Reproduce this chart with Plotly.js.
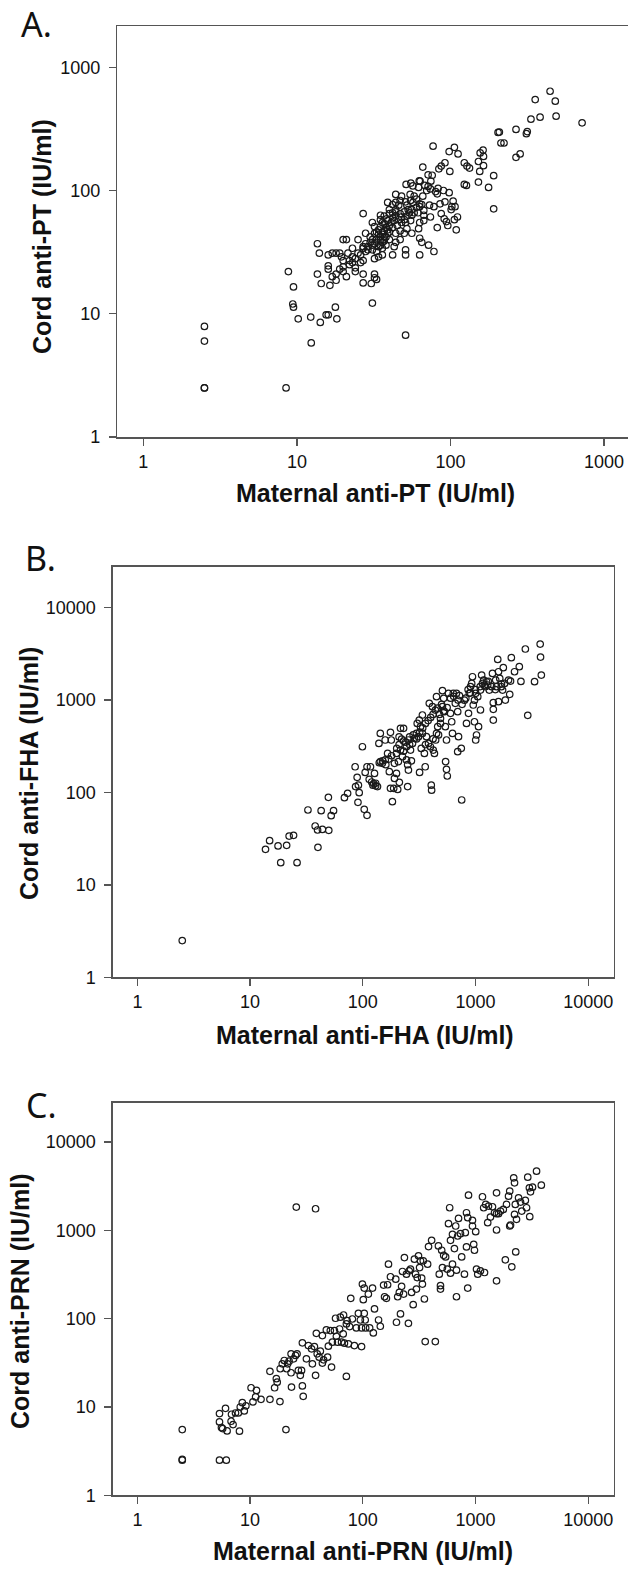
<!DOCTYPE html>
<html>
<head>
<meta charset="utf-8">
<script src="https://cdn.plot.ly/plotly-3.0.1.min.js"></script>
<style>
html,body{margin:0;padding:0;background:#fff;overflow:hidden;}
#chart{width:628px;height:1584px;}
</style>
</head>
<body>
<div id="chart"></div>
<script>
// ---------- Data (IU/ml) ----------
const ticksA = [1, 10, 100, 1000];
const ticksBC = [1, 10, 100, 1000, 10000];

const ptMaternal = [445,356,481,487,383,334,719,267,316,312,208,204,213,223,284,267,77,106,98,112,163,156,164,152,164,123,128,133,92,87,84,99,155,191,152,123,127,177,191,66,71.5,76,74.5,62.6,63.4,51.4,55.2,56.9,71.5,74,83,90,98,82,80,54.6,44,47,39,42,51,55,63,65,73,85.5,92,104,102,107,101,111,106,94,96,109,82,87,78,63,60,67,53,50,47,44,40,35,38.5,43,48,56,61.5,67,74,55,51,63,62,67,56,52,47,44,39,36,33,32,31,35,37,27,34,35,37,38,40,44,47,50,43,42,36,34,32,29,28,28,31,27,25,23,23,25,26,24,27,21.5,20,21,19,17,16,18,19.5,20,22,20,19,20,21,18,16,17,18,16.4,13.6,14,16,13.6,14.4,24,27,32,32,33,27,30.5,31,51,51,63,63,65,72,78,91,8.8,9.5,9.4,9.5,10.2,12.3,14.2,15.5,16,17.8,18.2,12.4,51,2.5,2.5,2.5,2.5,8.5,33,35,36,37,38,34,33,35,36,38,39,40,41,42,40,37,34,32,31,30,29,28,31,33,36,42,44,46,45,48,50,52,54,56,58,44,42,39,36,32,30,27,26,24,23,22,44,46,52,57,60,58,66,70,68,62,48,40,37,35];
const ptCord = [639,547,531,401,394,379,354,313,301,289,298,296,243,243,198,186,229,224,207,198,213,202,189,172,159,168,158,152,168,158,150,143,143,132,117,112,110,106,71,155,134,133,119,120,119,112,115,109,108,103,104,100,96,94,98,93,93,83,80,77,81,83,78,77,76,78,81,82,74,74,70,61,58,56,52,48,50,65,74,74,73,69,70,67,65,67,65,63,59,57,61,63,66,63,61,57,55,55,49,57,45,49,47,45,45,46,46,51,55,51,54,65,48,40,42,36,40,38,40,45,35,30,30,29,28,35,45,37,36,34,40,34,29,31,26,23.6,27,31,40,40,31,31,30,31,29,27,27,24,23,22,20,21,23,20,18.7,17,37,31,24.5,21,17.6,22,21,21,19.6,19,17.8,17.6,12.2,33,30,41,30,38,36,32,59,22,16.5,12,11.3,9.1,9.4,8.5,9.8,9.8,11.3,9.1,5.8,6.7,7.9,6.0,2.5,2.5,2.5,40,42,44,47,50,44,38,36,38,42,48,52,55,50,46,39,35,37,40,38,33,32,33,32,34,60,62,58,52,55,58,62,66,70,66,70,66,57,55,45,42,35,30,28,26,25,80,76,76,80,85,90,90,100,110,106,90,70,62,58];

const fhaMaternal = [2.5,13.7,14.9,17.7,18.7,21.1,22.2,24.3,26.1,32.6,37.8,39.7,43.8,40,42.7,49.9,49.5,52.4,55,68.7,73.3,85.5,91.4,86.3,89.1,92.9,90.6,99.2,103,109,105,109,117,114,123,130,135,127,143,149,139,143,158,166,158,172,176,179,176,188,183,191,199,204,211,191,207,199,216,221,216,230,225,244,254,250,244,254,265,276,287,299,312,304,317,338,325,338,352,319,358,367,383,398,389,415,405,408,422,432,443,451,462,451,489,489,509,509,522,531,540,553,543,553,562,576,600,615,625,635,662,678,695,707,695,748,754,798,832,867,881,925,940,903,955,979,1004,979,1021,1004,1064,1047,1107,1107,1134,1153,1182,1222,1253,1283,1326,1393,1415,1439,1439,1439,1511,1537,1575,1600,1600,1641,1694,1765,1739,1811,1840,1964,2012,2046,2080,2220,2447,2530,2769,2908,3342,3748,3777,3838,120,125,130,140,150,160,170,180,200,210,230,240,260,280,300,320,340,360,380,400,420,440,460,480,500,520,560,600,640,700,720,760,820,860,900,1000,1100,1200,1300,1500,1700,250,270,330,360,420,470,260,230,210];
const fhaCord = [2.5,24.3,30.1,26.4,17.4,26.8,33.8,34.4,17.4,64.7,43.4,39.3,39.9,25.5,63.6,39,88.7,56.1,63.6,88,98,190,120,116,146,99.6,78.3,313,65.7,56.6,165,190,190,139,120,126,116,161,216,207,340,436,370,265,225,168,448,370,111,111,79.6,142,161,108,129,207,216,265,288,379,495,495,244,225,175,116,313,370,288,340,385,436,402,560,608,690,516,436,265,165,190,402,340,313,923,849,120,106,288,265,370,436,516,1089,560,634,849,1265,1045,750,516,370,216,178,151,1183,719,583,436,1183,923,1183,750,402,277,301,83,998,560,719,1183,1517,1791,1397,885,998,1183,583,419,370,516,1089,782,1285,1867,1517,1648,1397,1582,1456,1285,1397,1946,938,794,608,1648,1397,2760,2029,961,1718,1397,2243,1285,1517,1002,1648,1154,1608,2877,2029,2300,1595,3573,684,1582,4043,2925,1867,130,125,118,210,220,200,230,250,300,330,280,350,400,420,380,450,500,560,600,650,700,780,820,700,900,760,830,1050,1100,1000,1120,900,1050,1300,1200,1300,1400,1450,1600,1300,1500,200,220,300,330,380,420,330,360,400];

const prnMaternal = [2.5,2.5,2.5,5.35,6.15,5.35,5.35,5.57,5.71,6.05,6.25,6.78,7.06,6.84,7.42,7.86,8.05,8.18,8.53,8.88,9.18,10.2,10.6,11.4,11.2,12.5,15,15,16.5,17.1,17.4,18.4,18.5,19.3,20.1,20.8,21.1,21.5,22.2,23.1,23.3,23.1,24.3,25.3,25.7,26.1,26.8,27.9,28.6,29.1,29.1,29.6,31.6,32.9,35.1,35.7,37.2,38.1,38.1,38.7,39.4,41,42,43.8,43.8,44.9,47.5,48.7,49.5,51.5,52.8,53.7,56,57.3,58.3,59.7,62.2,63.2,64.8,67,67.5,68.7,71.5,71.5,72.6,74.5,76.4,78.2,80.8,84.2,87.7,91.4,95.2,97.5,97.5,99.2,101,103,103,105,106,112,115,122,124,127,138,143,153,156,162,166,169,176,196,199,204,211,216,221,225,230,234,244,254,258,265,271,280,287,294,299,304,312,319,325,333,338,344,352,358,376,383,408,440,469,477,489,489,501,509,522,543,562,576,590,600,600,625,625,650,667,678,678,695,707,736,754,798,812,832,832,853,867,853,940,940,964,979,1004,1021,1047,1107,1153,1182,1202,1233,1283,1304,1357,1415,1475,1537,1537,1537,1537,1600,1667,1765,1840,1885,1964,2012,2012,2046,2099,2183,2220,2220,2256,2275,2312,2410,2510,2572,2769,2838,2908,3006,3077,3029,3206,3481,3838];
const prnCord = [5.55,2.55,2.5,2.5,2.5,8.41,6.77,5.85,5.7,9.66,5.36,6.89,6.32,8.27,8.55,8.55,5.32,10,11.2,9.01,10.3,16.5,11.4,15.4,13,12.2,25.3,12.2,16.5,20.9,19.1,11.5,27.1,30.8,33.6,5.55,27.1,30.8,33,40,16.8,24.4,35.1,38.3,1832,40,25.9,22.8,25.9,53.2,17.3,13.2,35.1,49.6,45.5,30.8,48.3,1754,22.8,68.3,40,36.6,42.8,31.4,64.3,34.2,74.5,36.6,48.8,73.2,28.3,54.1,73.2,101,63.2,54.1,76.4,104,54.1,67.1,110,52.7,22.2,87.1,94.9,51.8,81.3,170,99.1,49.6,78.5,115,96.6,78.5,48.3,246,164,222,115,96.6,78.5,190,78.5,222,68.9,129,96.6,82,240,177,170,242,414,298,280,91,177,198,113,232,342,190,492,319,88.6,348,363,198,144,471,319,216,292,514,379,451,288,246,451,167,55,414,655,771,55,666,319,236,216,595,379,522,500,363,1189,1802,771,327,901,414,621,1119,177,354,863,1365,916,500,319,941,649,1582,222,2500,1390,1119,1297,695,595,966,363,319,348,2399,1802,333,1964,1220,1880,1414,1849,1582,2661,1542,1009,268,1542,1652,1725,463,1964,2438,2779,1119,1148,386,3926,3450,1515,1964,570,1331,2335,2090,1652,2179,1802,3998,3030,2729,1426,3083,4670,3246];

// ---------- Styling ----------
const FONT = "Arial, 'Liberation Sans', Helvetica, sans-serif";
const LINE = '#555555';

function markerTrace(x, y, xa, ya) {
  return {
    type: 'scatter', mode: 'markers', x: x, y: y, xaxis: xa, yaxis: ya,
    marker: {symbol: 'circle-open', size: 6.5, color: '#1a1a1a', line: {width: 1.2, color: '#1a1a1a'}},
    hoverinfo: 'x+y'
  };
}

function axis(ticks, range, domain, anchor, mirror, isY) {
  return {
    type: 'log', range: range, domain: domain, anchor: anchor,
    tickmode: 'array', tickvals: ticks, ticktext: ticks.map(String),
    ticks: 'outside', ticklen: 7, tickwidth: 1.3, tickcolor: LINE,
    ticklabelstandoff: isY ? 5 : 1,
    showline: true, linecolor: LINE, linewidth: 1.5, mirror: mirror,
    showgrid: false, zeroline: false,
    tickfont: {family: FONT, size: 18, color: '#111'},
    fixedrange: true
  };
}

const H = 1584, W = 628;
const py = v => 1 - v / H;
const px = v => v / W;

const data = [
  markerTrace(ptMaternal, ptCord, 'x', 'y'),
  markerTrace(fhaMaternal, fhaCord, 'x2', 'y2'),
  markerTrace(prnMaternal, prnCord, 'x3', 'y3')
];

function title(text, xpix, ypix, angle, size) {
  return {
    text: text, xref: 'paper', yref: 'paper', x: px(xpix), y: py(ypix),
    xanchor: 'center', yanchor: 'middle', showarrow: false, textangle: angle || 0,
    font: {family: FONT, size: size || 25, color: '#111', weight: 'bold'}
  };
}
function panelLabel(text, xpix, ypix) {
  return {
    text: text, xref: 'paper', yref: 'paper', x: px(xpix), y: py(ypix),
    xanchor: 'left', yanchor: 'middle', showarrow: false,
    font: {family: "'Noto Sans', 'DejaVu Sans', sans-serif", size: 34, color: '#111'}
  };
}

const layout = {
  width: W, height: H,
  margin: {l: 0, r: 0, t: 0, b: 0},
  paper_bgcolor: '#fff', plot_bgcolor: '#fff',
  showlegend: false,
  xaxis:  axis(ticksA,  [-0.1693, 3.1556], [px(117.3), 1], 'y', true, false),
  yaxis:  axis(ticksA,  [0, 3.335], [py(437), py(26)], 'x', false, true),
  xaxis2: axis(ticksBC, [-0.2183, 4.2254], [px(112.8), px(613.6)], 'y2', true, false),
  yaxis2: axis(ticksBC, [0, 4.444], [py(977.3), py(566.7)], 'x2', true, true),
  xaxis3: axis(ticksBC, [-0.2183, 4.2254], [px(112.8), px(613.6)], 'y3', true, false),
  yaxis3: axis(ticksBC, [0, 4.445], [py(1495.3), py(1102.7)], 'x3', true, true),
  annotations: [
    panelLabel('A.', 19, 24.5),
    panelLabel('B.', 23, 558),
    panelLabel('C.', 24, 1104.5),
    title('Maternal anti-PT (IU/ml)', 375, 493),
    title('Cord anti-PT (IU/ml)', 42, 237, -90),
    title('Maternal anti-FHA (IU/ml)', 365, 1035),
    title('Cord anti-FHA (IU/ml)', 29, 774, -90),
    title('Maternal anti-PRN (IU/ml)', 363, 1551),
    title('Cord anti-PRN (IU/ml)', 20, 1301, -90)
  ]
};

Plotly.newPlot('chart', data, layout, {displayModeBar: false, staticPlot: true});
</script>
</body>
</html>
